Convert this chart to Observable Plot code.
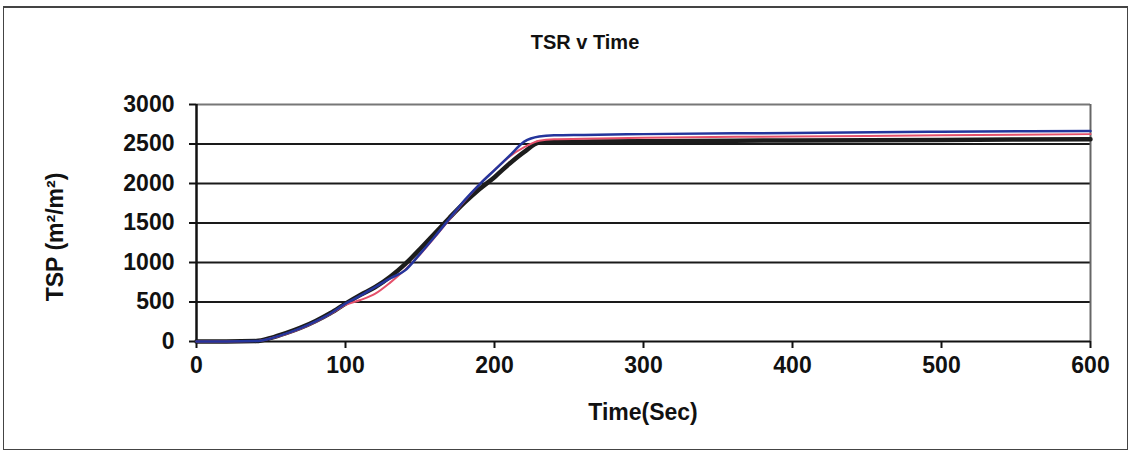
<!DOCTYPE html>
<html>
<head>
<meta charset="utf-8">
<script src="https://cdn.jsdelivr.net/npm/d3@7"></script>
<script src="https://cdn.jsdelivr.net/npm/@observablehq/plot@0.6"></script>
<style>
  html, body { margin: 0; padding: 0; background: #fff; }
  #wrap { position: relative; width: 1132px; height: 455px; overflow: hidden; font-family: "Liberation Sans", Arial, sans-serif; }
  #frame { position: absolute; left: 3px; top: 6px; width: 1125px; height: 444px; border: 1.5px solid #444; border-top-width: 2.5px; box-sizing: border-box; }
  .lbl { position: absolute; font-weight: bold; color: #111; white-space: nowrap; }
  #title { left: 585px; top: 31px; transform: translateX(-50%); font-size: 20px; }
  #xlab { left: 643px; top: 399px; transform: translateX(-50%); font-size: 23px; }
  #ylab { left: 55px; top: 237px; transform: translate(-50%, -50%) rotate(-90deg); font-size: 23px; }
  #chart { position: absolute; left: 0; top: 0; }
</style>
</head>
<body>
<div id="wrap">
  <div id="frame"></div>
  <div id="chart"></div>
  <div class="lbl" id="title">TSR v Time</div>
  <div class="lbl" id="xlab">Time(Sec)</div>
  <div class="lbl" id="ylab">TSP (m²/m²)</div>
</div>
<script>
const times = [0, 20, 40, 50, 60, 70, 80, 90, 100, 110, 120, 130, 140, 150, 160, 170, 180, 190, 200, 210, 220, 230, 240, 260, 300, 400, 500, 600];
const blackSeries = [0, 0, 5, 45, 105, 175, 260, 360, 480, 590, 690, 820, 980, 1170, 1370, 1570, 1760, 1930, 2080, 2250, 2400, 2520, 2530, 2530, 2535, 2545, 2552, 2560];
const redSeries   = [0, 0, 5, 40, 95, 165, 250, 350, 465, 525, 605, 745, 910, 1100, 1320, 1550, 1780, 1990, 2170, 2340, 2460, 2540, 2560, 2565, 2580, 2595, 2610, 2625];
const blueSeries  = [0, 0, 5, 40, 100, 170, 255, 355, 480, 580, 690, 800, 900, 1110, 1330, 1560, 1790, 1990, 2170, 2350, 2530, 2595, 2610, 2615, 2625, 2640, 2655, 2665];
const yTicks = [0, 500, 1000, 1500, 2000, 2500, 3000];
const xTicks = [0, 100, 200, 300, 400, 500, 600];
const gridValues = [500, 1000, 1500, 2000, 2500];

const toRows = (vals) => times.map((t, i) => ({t, v: vals[i]}));

const chart = Plot.plot({
  width: 1132,
  height: 455,
  marginLeft: 196,
  marginRight: 42,
  marginTop: 104,
  marginBottom: 114,
  style: {fontFamily: '"Liberation Sans", Arial, sans-serif', background: "transparent", overflow: "visible"},
  x: {domain: [0, 600]},
  y: {domain: [0, 3000]},
  marks: [
    Plot.ruleY(gridValues, {stroke: "#1a1a1a", strokeWidth: 2.2}),
    Plot.ruleY([3000], {stroke: "#777", strokeWidth: 2}),
    Plot.ruleX([600], {stroke: "#666", strokeWidth: 2}),
    Plot.ruleY([0], {stroke: "#111", strokeWidth: 2.2}),
    Plot.ruleX([0], {stroke: "#111", strokeWidth: 2.5}),
    Plot.axisY({ticks: yTicks, tickSize: 7, tickPadding: 15, stroke: "#111", strokeWidth: 2, tickFormat: d => String(d), fontSize: 23, fontWeight: "bold", fill: "#111", label: null}),
    Plot.axisX({ticks: xTicks, tickSize: 7, tickPadding: 8, stroke: "#111", strokeWidth: 2, tickFormat: d => String(d), fontSize: 23, fontWeight: "bold", fill: "#111", label: null}),
    Plot.line(toRows(blackSeries), {x: "t", y: "v", stroke: "#1c1c1c", strokeWidth: 4.5, curve: "monotone-x"}),
    Plot.line(toRows(redSeries), {x: "t", y: "v", stroke: "#e5506a", strokeWidth: 2, curve: "monotone-x"}),
    Plot.line(toRows(blueSeries), {x: "t", y: "v", stroke: "#24359c", strokeWidth: 2.5, curve: "monotone-x"})
  ]
});
document.getElementById("chart").appendChild(chart);
</script>
</body>
</html>
